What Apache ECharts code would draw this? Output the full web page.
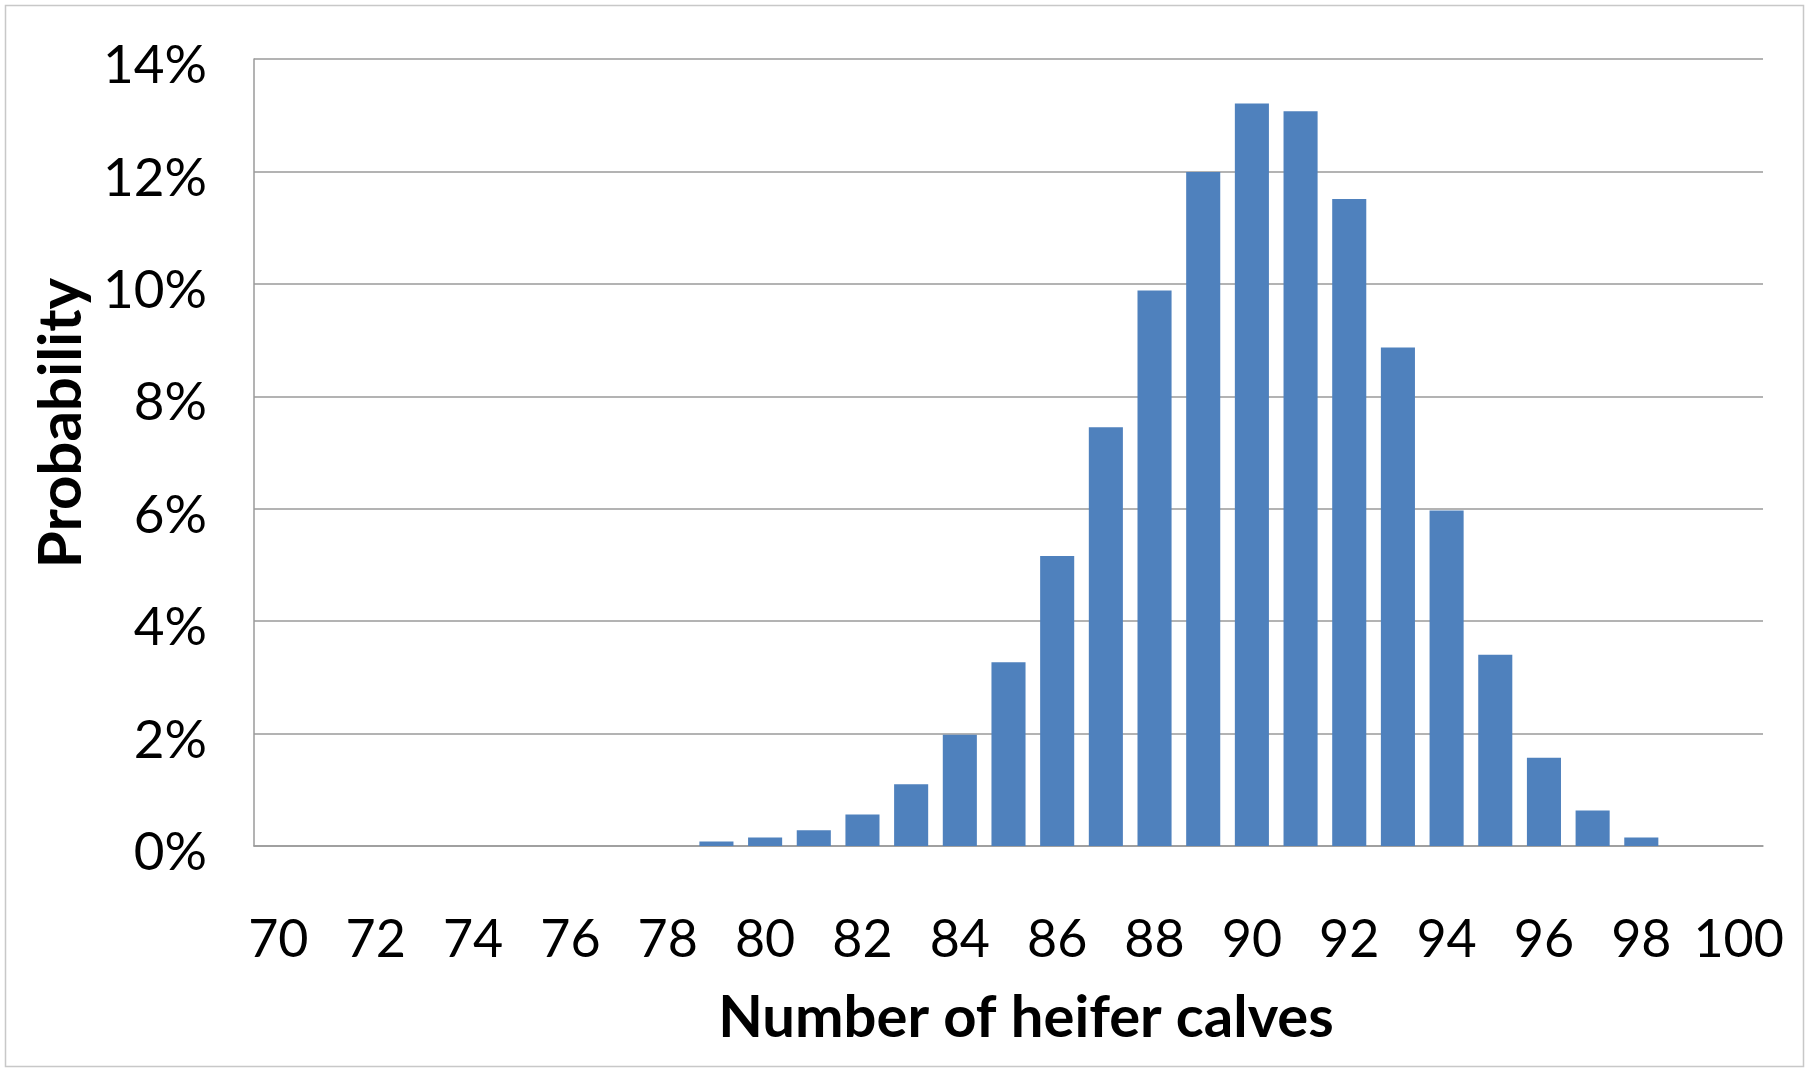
<!DOCTYPE html>
<html>
<head>
<meta charset="utf-8">
<script src="https://cdn.jsdelivr.net/npm/echarts@6/dist/echarts.min.js"></script>
<style>
html,body{margin:0;padding:0;background:#fff;}
#chart{width:1814px;height:1071px;}
</style>
</head>
<body>
<div id="chart"></div>
<script>
const categories = ['70','71','72','73','74','75','76','77','78','79','80','81','82','83','84','85','86','87','88','89','90','91','92','93','94','95','96','97','98','99','100'];
const probability = [0,0,0,0,0,0,0,0,0,0.08,0.15,0.28,0.56,1.10,1.98,3.27,5.16,7.45,9.88,11.99,13.21,13.07,11.51,8.87,5.97,3.40,1.57,0.63,0.15,0,0];
const yTicks = {min: 0, max: 14, interval: 2};
const xTitle = 'Number of heifer calves';
const yTitle = 'Probability';

const chart = echarts.init(document.getElementById('chart'), null, {renderer: 'canvas'});
const font = 'Lato, "Open Sans", sans-serif';
chart.setOption({
  animation: false,
  backgroundColor: '#ffffff',
  grid: {left: 254, right: 51, top: 59, bottom: 225, containLabel: false},
  xAxis: {
    type: 'category',
    data: categories,
    axisLine: {show: true, lineStyle: {color: '#9a9a9a', width: 1.5}},
    axisTick: {show: false},
    axisLabel: {interval: 1, margin: 68, fontFamily: font, fontSize: 52, color: '#000'},
    splitLine: {show: false}
  },
  yAxis: {
    type: 'value',
    min: yTicks.min, max: yTicks.max, interval: yTicks.interval,
    axisLine: {show: true, lineStyle: {color: '#9a9a9a', width: 1.5}},
    axisTick: {show: false},
    axisLabel: {
      margin: 47, color: '#000',
      formatter: function (v) { return '{v|' + v + '%}'; },
      rich: {v: {fontFamily: font, fontSize: 53, color: '#000', padding: [14, 0, 0, 0]}}
    },
    splitLine: {show: true, lineStyle: {color: '#9a9a9a', width: 1.5}}
  },
  series: [{
    type: 'bar',
    data: probability,
    barCategoryGap: '30%',
    itemStyle: {color: '#4F81BD'}
  }],
  graphic: [
    {type: 'rect', shape: {x: 5.5, y: 5.5, width: 1798, height: 1061}, style: {fill: 'none', stroke: '#c8c8c8', lineWidth: 1.5}, silent: true, z: -1},
    {type: 'text', x: 1026, y: 1018, style: {text: xTitle, font: 'bold 58px ' + font, fill: '#000', align: 'center', verticalAlign: 'middle'}},
    {type: 'text', x: 62, y: 423, rotation: Math.PI / 2, style: {text: yTitle, font: 'bold 60px ' + font, fill: '#000', align: 'center', verticalAlign: 'middle'}}
  ]
});
</script>
</body>
</html>
